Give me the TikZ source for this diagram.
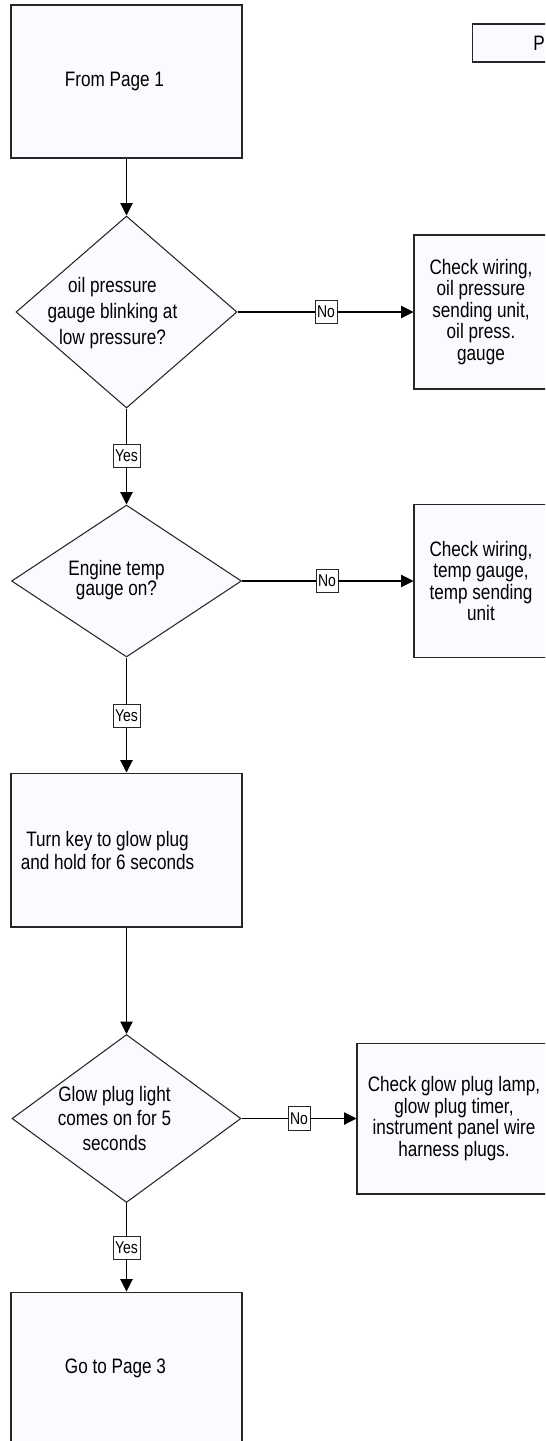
\documentclass[tikz,border=0pt]{standalone}
\usepackage{fontspec}
\setmainfont{Liberation Sans}
\newfontfamily\chartfont{Liberation Sans}[FakeStretch=0.82]
\usepackage{xcolor}
\usepackage{tikz}
\usetikzlibrary{arrows.meta,calc,shapes.geometric}
\definecolor{boxfill}{HTML}{FAFBFE}

\begin{document}
\begin{tikzpicture}[
    x=0.02cm,y=-0.02cm,
    font=\chartfont\fontsize{11.9}{12.2}\selectfont,
    box/.style={draw=black!85,fill=boxfill,line width=0.6pt,inner sep=0pt,align=center},
    dec/.style={box,diamond},
    txt/.style={align=center,inner sep=0pt},
    tag/.style={draw=black!85,fill=white,line width=0.5pt,inner xsep=1.2pt,inner ysep=0pt,
                minimum height=13.5pt,font=\chartfont\fontsize{9.7}{11}\selectfont},
    flow/.style={line width=0.6pt},
    arr/.style={flow,-{Triangle[length=7pt,width=7pt]}}
  ]
    \clip (0,0) rectangle (545,1441);
    \node[box,minimum width=4.62cm,minimum height=3.06cm] (b1) at (126.5,81.5) {};
    \node[txt] (b1t) at ($(b1)+(-12,0)$) {From Page 1};
    \node[dec,minimum width=4.42cm,minimum height=3.84cm] (d1) at (126.5,312) {};
    \node[txt,font=\chartfont\fontsize{11.9}{14.8}\selectfont] (d1t) at ($(d1)+(-14,1)$) {oil pressure\\gauge blinking at\\low pressure?};
    \node[box,minimum width=2.68cm,minimum height=3.08cm] (r1) at (481,312) {Check wiring,\\oil pressure\\sending unit,\\oil press.\\gauge};
    \node[tag] (no1) at (326,312) {No};
    \node[tag] (yes1) at (126.5,456) {Yes};
    \node[dec,minimum width=4.6cm,minimum height=3.04cm] (d2) at (126.5,581) {};
    \node[txt,font=\chartfont\fontsize{11.9}{11.6}\selectfont] (d2t) at ($(d2)+(-10,-1)$) {Engine temp\\gauge on?};
    \node[box,minimum width=2.68cm,minimum height=3.06cm] (r2) at (481,581) {Check wiring,\\temp gauge,\\temp sending\\unit};
    \node[tag] (no2) at (327,581) {No};
    \node[tag] (yes2) at (126.5,716) {Yes};
    \node[box,minimum width=4.62cm,minimum height=3.08cm] (b2) at (126.5,850) {};
    \node[txt,font=\chartfont\fontsize{11.9}{13.1}\selectfont] (b2t) at ($(b2)+(-19,1)$) {Turn key to glow plug\\and hold for 6 seconds};
    \node[dec,minimum width=4.58cm,minimum height=3.36cm] (d3) at (126.5,1118.5) {};
    \node[txt,font=\chartfont\fontsize{11.9}{14.2}\selectfont] (d3t) at ($(d3)+(-12,0)$) {Glow plug light\\comes on for 5\\seconds};
    \node[box,minimum width=3.88cm,minimum height=3.02cm] (r3) at (454,1118.5) {Check glow plug lamp,\\glow plug timer,\\instrument panel wire\\harness plugs.};
    \node[tag] (no3) at (299,1118.5) {No};
    \node[tag] (yes3) at (126.5,1248) {Yes};
    \node[box,minimum width=4.62cm,minimum height=3.06cm] (b3) at (126.5,1368.5) {};
    \node[txt] (b3t) at ($(b3)+(-11,0)$) {Go to Page 3};
    \node[box,anchor=west,minimum width=4cm,minimum height=0.76cm] (pg) at (472,43) {};
    \node[txt,anchor=west] (pgt) at (533,43) {P};
    \draw[arr] (b1) -- (d1);
    \draw[flow] (d1) -- (no1);
    \draw[arr] (no1) -- (r1);
    \draw[flow] (d1) -- (yes1);
    \draw[arr] (yes1) -- (d2);
    \draw[flow] (d2) -- (no2);
    \draw[arr] (no2) -- (r2);
    \draw[flow] (d2) -- (yes2);
    \draw[arr] (yes2) -- (b2);
    \draw[arr] (b2) -- (d3);
    \draw[flow] (d3) -- (no3);
    \draw[arr] (no3) -- (r3);
    \draw[flow] (d3) -- (yes3);
    \draw[arr] (yes3) -- (b3);
  \end{tikzpicture}
\end{document}
